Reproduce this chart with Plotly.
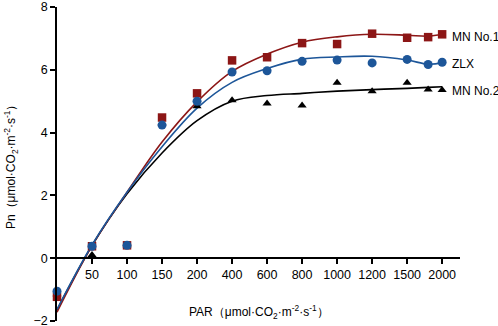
import numpy as np
import plotly.graph_objects as go

# Category ticks of the PAR axis (equally spaced categories)
tick_par = [0, 50, 100, 150, 200, 400, 600, 800, 1000, 1200, 1500, 2000]
tick_labels = ["", "50", "100", "150", "200", "400", "600", "800", "1000", "1200", "1500", "2000"]

# Measured PAR levels
par = [0, 50, 100, 150, 200, 400, 600, 800, 1000, 1200, 1500, 1800, 2000]

# Observed Pn values
mn1_obs = [-1.23, 0.38, 0.41, 4.48, 5.25, 6.30, 6.40, 6.85, 6.82, 7.15, 7.02, 7.04, 7.13]
zlx_obs = [-1.05, 0.38, 0.41, 4.24, 5.00, 5.93, 5.97, 6.27, 6.31, 6.22, 6.33, 6.17, 6.24]
mn2_obs = [-1.15, 0.10, 0.41, 4.30, 4.84, 5.03, 4.93, 4.86, 5.59, 5.32, 5.59, 5.37, 5.36]

# Fitted light-response curves
mn1_fit = [-1.72, 0.40, 2.10, 3.70, 4.98, 5.95, 6.50, 6.88, 7.05, 7.13, 7.10, 7.07, 7.13]
zlx_fit = [-1.63, 0.42, 2.10, 3.55, 4.78, 5.60, 6.04, 6.34, 6.41, 6.43, 6.31, 6.18, 6.22]
mn2_fit = [-1.65, 0.40, 2.05, 3.35, 4.38, 5.00, 5.18, 5.25, 5.32, 5.37, 5.41, 5.44, 5.46]

series_names = ["MN No.1", "ZLX", "MN No.2"]

RED = "#8C1616"
BLUE = "#1D5699"
BLACK = "#000000"

tick_idx = list(range(len(tick_par)))
xpos = np.interp(par, tick_par, tick_idx)

fig = go.Figure()

for fit, col in [(mn2_fit, BLACK), (mn1_fit, RED), (zlx_fit, BLUE)]:
    fig.add_trace(go.Scatter(x=xpos, y=fit, mode="lines", line=dict(color=col, width=1.6, shape="spline", smoothing=1.0),
                             cliponaxis=False, showlegend=False, hoverinfo="skip"))

fig.add_trace(go.Scatter(x=xpos, y=mn2_obs, mode="markers", marker=dict(symbol="triangle-up", size=8, color=BLACK),
                         cliponaxis=False, showlegend=False, name=series_names[2]))
fig.add_trace(go.Scatter(x=xpos, y=mn1_obs, mode="markers", marker=dict(symbol="square", size=8.5, color=RED),
                         cliponaxis=False, showlegend=False, name=series_names[0]))
fig.add_trace(go.Scatter(x=xpos, y=zlx_obs, mode="markers", marker=dict(symbol="circle", size=9, color=BLUE),
                         cliponaxis=False, showlegend=False, name=series_names[1]))

FONT = "Liberation Sans, Arial, sans-serif"

# End-of-curve labels
label_y = [7.03, 6.17, 5.33]
for name, yy in zip(series_names, label_y):
    fig.add_annotation(x=0.975, y=yy, xref="paper", yref="y", text=name, showarrow=False,
                       xanchor="left", yanchor="middle", font=dict(size=12, color="#000", family=FONT))

# X axis title
fig.add_annotation(x=0.5, y=0.029, xref="paper", yref="paper",
                   text="PAR（μmol·CO<sub>2</sub>·m<sup>-2</sup>·s<sup>-1</sup>）",
                   showarrow=False, xanchor="center", yanchor="middle",
                   font=dict(size=12, color="#000", family=FONT))

# Y axis title
fig.add_annotation(x=-0.114, y=0.5, xref="paper", yref="paper",
                   text="Pn（μmol·CO<sub>2</sub>·m<sup>-2</sup>·s<sup>-1</sup>）",
                   showarrow=False, xanchor="center", yanchor="middle", textangle=-90,
                   font=dict(size=12, color="#000", family=FONT))

fig.update_layout(
    width=498, height=326,
    margin=dict(l=57, r=38, t=7, b=5),
    paper_bgcolor="white", plot_bgcolor="white",
    font=dict(family=FONT, size=12.5, color="#000"),
    xaxis=dict(range=[0, 11.51], tickmode="array", tickvals=tick_idx[1:], ticktext=tick_labels[1:],
               showgrid=False, zeroline=False, showline=True, linecolor="#000", linewidth=1.5,
               ticks="outside", ticklen=5, tickwidth=1.5, tickcolor="#000", automargin=False,
               anchor="free", position=0.2, tickfont=dict(size=12.5), ticklabeloverflow="allow"),
    yaxis=dict(range=[-2, 8], tickmode="array", tickvals=[-2, 0, 2, 4, 6, 8],
               showgrid=False, zeroline=False, showline=True, linecolor="#000", linewidth=1.5,
               ticks="outside", ticklen=5, tickwidth=1.5, tickcolor="#000", automargin=False,
               tickfont=dict(size=12.5), ticklabeloverflow="allow"),
)

fig.write_html("out.html", config={"displayModeBar": False},
               post_script="document.body.style.margin='0';document.body.style.padding='0';document.body.style.overflow='hidden';")
